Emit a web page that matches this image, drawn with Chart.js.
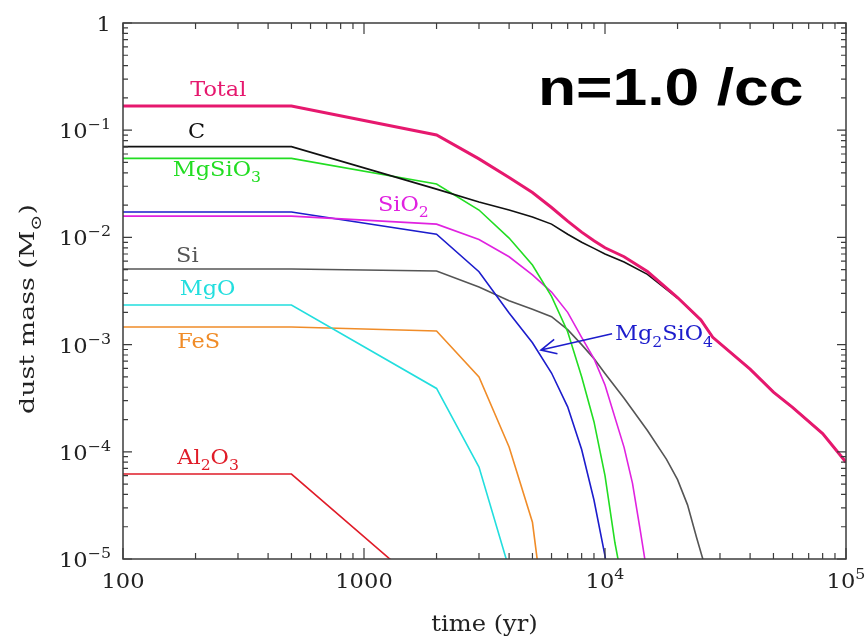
<!DOCTYPE html>
<html>
<head>
<meta charset="utf-8">
<script src="https://cdn.jsdelivr.net/npm/chart.js@4.4.1/dist/chart.umd.min.js"></script>
<style>
  html, body { margin: 0; padding: 0; background: #fff; }
</style>
</head>
<body>
<canvas id="chart" width="865" height="639"></canvas>
<script>
// dust mass (Msun) vs time (yr), one pair of arrays per grain species
const totalTime = [100, 500, 2000, 3000, 4000, 5000, 6000, 7000, 8000, 9000, 10000, 12000, 15000, 20000, 25000, 28000, 40000, 50000, 60000, 80000, 100000];
const totalMass = [0.168, 0.168, 0.0902, 0.0540, 0.0362, 0.0262, 0.0190, 0.0142, 0.0112, 0.0093, 0.0080, 0.0066, 0.0048, 0.00275, 0.0017, 0.00117, 0.00059, 0.00036, 0.00026, 0.000148, 0.000080];

const cTime = [100, 500, 2000, 3000, 4000, 5000, 6000, 7000, 8000, 9000, 10000, 12000, 15000, 20000, 25000, 28000, 40000, 50000, 60000, 80000, 100000];
const cMass = [0.0702, 0.0702, 0.0282, 0.0214, 0.0180, 0.0155, 0.0133, 0.0107, 0.0090, 0.0079, 0.0070, 0.0059, 0.00452, 0.00272, 0.0017, 0.00117, 0.00059, 0.00036, 0.00026, 0.000148, 0.000080];

const mgsio3Time = [100, 500, 2000, 3000, 4000, 5000, 6000, 7000, 8000, 9000, 10000, 11000, 12000];
const mgsio3Mass = [0.0546, 0.0546, 0.0315, 0.0180, 0.00986, 0.00553, 0.00282, 0.00132, 0.000501, 0.000191, 0.000060, 0.0000141, 0.000005];

const sio2Time = [100, 500, 2000, 3000, 4000, 5000, 6000, 7000, 8000, 9000, 10000, 12000, 13000, 14000, 15000];
const sio2Mass = [0.0158, 0.0158, 0.0133, 0.00955, 0.0066, 0.00447, 0.00309, 0.0020, 0.00117, 0.00074, 0.00042, 0.00011, 0.000051, 0.0000186, 0.000007];

const mg2sio4Time = [100, 500, 2000, 3000, 4000, 5000, 6000, 7000, 8000, 9000, 10000, 10500];
const mg2sio4Mass = [0.01725, 0.01725, 0.0107, 0.00479, 0.00197, 0.00104, 0.000543, 0.000263, 0.000105, 0.0000355, 0.0000107, 0.000005];

const siTime = [100, 500, 2000, 3000, 4000, 5000, 6000, 7000, 8000, 9000, 10000, 12000, 15000, 18000, 20000, 22000, 24000, 26000];
const siMass = [0.00507, 0.00507, 0.00486, 0.00344, 0.00257, 0.00214, 0.00182, 0.00138, 0.0010, 0.00074, 0.000537, 0.000316, 0.000158, 0.000085, 0.000055, 0.000032, 0.0000158, 0.0000085];

const mgoTime = [100, 500, 2000, 3000, 4000];
const mgoMass = [0.00234, 0.00234, 0.00039, 0.000072, 0.0000081];

const fesTime = [100, 500, 2000, 3000, 4000, 5000, 5300];
const fesMass = [0.00146, 0.00146, 0.00134, 0.0005, 0.000111, 0.000022, 0.0000079];

const al2o3Time = [100, 500, 2000];
const al2o3Mass = [0.000062, 0.000062, 0.0000042];

const speciesNames = ['Total', 'C', 'MgSiO_3', 'SiO_2', 'Mg_2SiO_4', 'Si', 'MgO', 'FeS', 'Al_2O_3'];
const speciesColors = ['#e6186e', '#111111', '#22dd22', '#e022e0', '#1c1ccc', '#555555', '#22dede', '#f08c28', '#e01c28'];
const speciesWidths = [3, 1.6, 1.6, 1.6, 1.6, 1.6, 1.6, 1.6, 1.6];
const speciesTimes = [totalTime, cTime, mgsio3Time, sio2Time, mg2sio4Time, siTime, mgoTime, fesTime, al2o3Time];
const speciesMasses = [totalMass, cMass, mgsio3Mass, sio2Mass, mg2sio4Mass, siMass, mgoMass, fesMass, al2o3Mass];

// where each curve label sits (left edge, baseline), in data units
const labelTime = [190, 186, 161, 1143, 11000, 166, 172, 168, 168];
const labelMass = [0.208, 0.0846, 0.0374, 0.0176, 0.0011, 0.0059, 0.0029, 0.00093, 0.000077];

// Mg2SiO4 arrow: tail -> tip
const arrowTime = [10700, 5420];
const arrowMass = [0.00126, 0.00089];

const xTickValues = [100, 1000, 1e4, 1e5];
const xTickLabels = [['100', ''], ['1000', ''], ['10', '4'], ['10', '5']];
const yTickValues = [1, 1e-1, 1e-2, 1e-3, 1e-4, 1e-5];
const yTickLabels = [['1', ''], ['10', '\u22121'], ['10', '\u22122'], ['10', '\u22123'], ['10', '\u22124'], ['10', '\u22125']];

const SERIF = '"DejaVu Serif", serif';

// split "MgSiO_3" into plain / subscript runs
function parseRuns(str) {
  const runs = [];
  let i = 0;
  while (i < str.length) {
    if (str[i] === '_') { runs.push({ t: str[i + 1], sub: true }); i += 2; }
    else {
      let j = i;
      while (j < str.length && str[j] !== '_') j++;
      runs.push({ t: str.slice(i, j) });
      i = j;
    }
  }
  return runs;
}

// draw runs of text with horizontal stretch sx, returns width
function drawRuns(ctx, runs, x, y, size, sx, align) {
  let w = 0;
  const small = Math.round(size * 0.72);
  runs.forEach(r => {
    ctx.font = (r.sub || r.sup ? small : size) + 'px ' + SERIF;
    w += ctx.measureText(r.t).width * sx;
  });
  let cx = x;
  if (align === 'center') cx = x - w / 2;
  else if (align === 'right') cx = x - w;
  runs.forEach(r => {
    const fs = r.sub || r.sup ? small : size;
    ctx.font = fs + 'px ' + SERIF;
    const dy = r.sub ? size * 0.32 : (r.sup ? -size * 0.45 : 0);
    ctx.save();
    ctx.translate(cx, y + dy);
    ctx.scale(sx, 1);
    ctx.textAlign = 'left';
    ctx.textBaseline = 'alphabetic';
    ctx.fillText(r.t, 0, 0);
    ctx.restore();
    cx += ctx.measureText(r.t).width * sx;
  });
  return w;
}

const framePlugin = {
  id: 'frame',
  afterDatasetsDraw(chart) {
    const ctx = chart.ctx;
    const xs = chart.scales.x, ys = chart.scales.y;
    const a = chart.chartArea;
    ctx.save();

    // box
    ctx.strokeStyle = '#3c3c3c';
    ctx.lineWidth = 1.5;
    ctx.strokeRect(a.left, a.top, a.right - a.left, a.bottom - a.top);

    // inward log ticks
    ctx.lineWidth = 1.2;
    ctx.beginPath();
    for (let e = Math.round(Math.log10(xs.min)); e <= Math.round(Math.log10(xs.max)); e++) {
      for (let k = 1; k <= 9; k++) {
        const v = k * Math.pow(10, e);
        if (v < xs.min * 0.999 || v > xs.max * 1.001) continue;
        const px = xs.getPixelForValue(v);
        const len = k === 1 ? 11 : 6;
        ctx.moveTo(px, a.bottom); ctx.lineTo(px, a.bottom - len);
        ctx.moveTo(px, a.top); ctx.lineTo(px, a.top + len);
      }
    }
    for (let e = Math.round(Math.log10(ys.min)); e <= Math.round(Math.log10(ys.max)); e++) {
      for (let k = 1; k <= 9; k++) {
        const v = k * Math.pow(10, e);
        if (v < ys.min * 0.999 || v > ys.max * 1.001) continue;
        const py = ys.getPixelForValue(v);
        const len = k === 1 ? 9 : 5;
        ctx.moveTo(a.left, py); ctx.lineTo(a.left + len, py);
        ctx.moveTo(a.right, py); ctx.lineTo(a.right - len, py);
      }
    }
    ctx.stroke();

    // tick labels
    ctx.fillStyle = '#222';
    xTickValues.forEach((v, i) => {
      const runs = [{ t: xTickLabels[i][0] }];
      if (xTickLabels[i][1]) runs.push({ t: xTickLabels[i][1], sup: true });
      drawRuns(ctx, runs, xs.getPixelForValue(v), a.bottom + 29, 20, 1.13, 'center');
    });
    yTickValues.forEach((v, i) => {
      const runs = [{ t: yTickLabels[i][0] }];
      if (yTickLabels[i][1]) runs.push({ t: yTickLabels[i][1], sup: true });
      drawRuns(ctx, runs, a.left - 12, ys.getPixelForValue(v) + 8, 20, 1.13, 'right');
    });

    // axis titles
    drawRuns(ctx, [{ t: 'time (yr)' }], (a.left + a.right) / 2, a.bottom + 72, 22, 1.1, 'center');
    ctx.save();
    ctx.translate(34, (a.top + a.bottom) / 2 + 18);
    ctx.rotate(-Math.PI / 2);
    drawRuns(ctx, [{ t: 'dust mass (M' }, { t: '\u2299', sub: true }, { t: ')' }], 0, 0, 21, 1.28, 'center');
    ctx.restore();

    // curve labels
    speciesNames.forEach((name, i) => {
      ctx.fillStyle = speciesColors[i];
      drawRuns(ctx, parseRuns(name), xs.getPixelForValue(labelTime[i]), ys.getPixelForValue(labelMass[i]), 20, 1.12, 'left');
    });

    // arrow to the Mg2SiO4 curve
    const x0 = xs.getPixelForValue(arrowTime[0]), y0 = ys.getPixelForValue(arrowMass[0]);
    const x1 = xs.getPixelForValue(arrowTime[1]), y1 = ys.getPixelForValue(arrowMass[1]);
    const ang = Math.atan2(y1 - y0, x1 - x0);
    ctx.strokeStyle = speciesColors[4];
    ctx.lineWidth = 1.6;
    ctx.beginPath();
    ctx.moveTo(x0, y0); ctx.lineTo(x1, y1);
    ctx.moveTo(x1 - 17 * Math.cos(ang - 0.45), y1 - 17 * Math.sin(ang - 0.45));
    ctx.lineTo(x1, y1);
    ctx.lineTo(x1 - 17 * Math.cos(ang + 0.45), y1 - 17 * Math.sin(ang + 0.45));
    ctx.stroke();

    // density note
    ctx.fillStyle = '#000';
    ctx.font = 'bold 52px "Liberation Sans", Arial, sans-serif';
    ctx.save();
    ctx.translate(538, 105);
    ctx.scale(1.2, 1);
    ctx.textBaseline = 'alphabetic';
    ctx.fillText('n=1.0 /cc', 0, 0);
    ctx.restore();

    ctx.restore();
  }
};

new Chart(document.getElementById('chart'), {
  type: 'line',
  data: {
    datasets: speciesNames.map((name, i) => ({
      label: name.replace(/_/g, ''),
      data: speciesTimes[i].map((t, j) => ({ x: t, y: speciesMasses[i][j] })),
      borderColor: speciesColors[i],
      borderWidth: speciesWidths[i],
      pointRadius: 0,
      tension: 0,
      fill: false
    }))
  },
  options: {
    responsive: false,
    animation: false,
    events: [],
    layout: { padding: { left: 123, right: 19, top: 23, bottom: 80 } },
    plugins: { legend: { display: false }, tooltip: { enabled: false } },
    scales: {
      x: { type: 'logarithmic', min: 100, max: 1e5, display: false },
      y: { type: 'logarithmic', min: 1e-5, max: 1, display: false }
    }
  },
  plugins: [framePlugin]
});
</script>
</body>
</html>
